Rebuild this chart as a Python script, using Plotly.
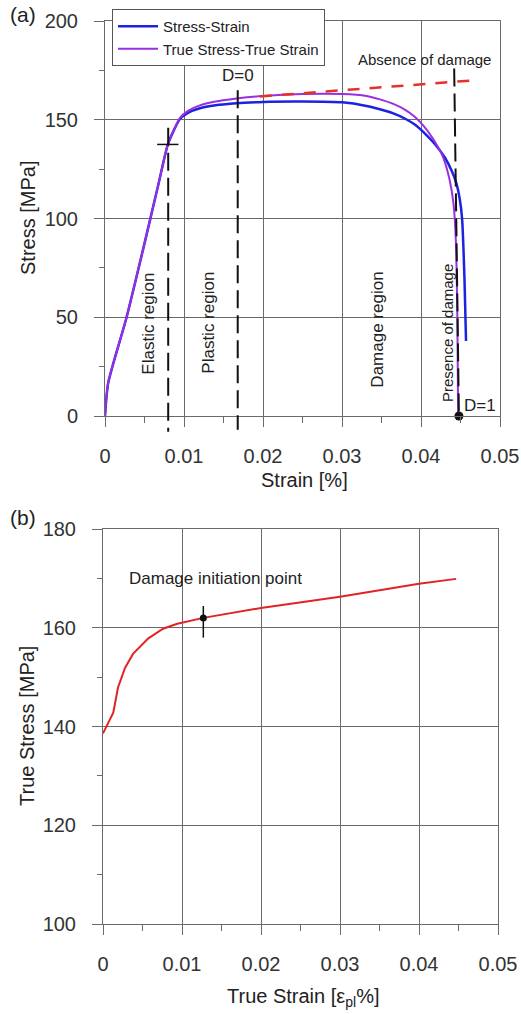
import plotly.graph_objects as go

# ---------------- data: panel (a) ----------------
eng_strain = [0, 0.0004, 0.0027, 0.0048, 0.0068, 0.008, 0.0095, 0.0105, 0.012, 0.014, 0.0162,
              0.02, 0.025, 0.03, 0.0331, 0.0348, 0.0365, 0.038, 0.0393, 0.0405, 0.0418, 0.043,
              0.0439, 0.0445, 0.0449, 0.0452, 0.0455, 0.0457]
eng_stress = [0, 16.7, 49.5, 84, 118, 138, 150.5, 153.5, 155.8, 157.3, 158.2,
              159, 159.2, 158.8, 157, 155.3, 153.2, 150.5, 147.3, 143, 137.5, 131,
              124, 117.5, 110, 100, 70, 38]

true_strain = [0, 0.0004, 0.0027, 0.0048, 0.0068, 0.008, 0.0095, 0.0105, 0.012, 0.014, 0.0162,
               0.02, 0.025, 0.03, 0.0331, 0.0348, 0.0365, 0.038, 0.0392, 0.0403, 0.0415, 0.0428,
               0.0436, 0.0441, 0.0444, 0.0446, 0.0447]
true_stress = [0, 16.7, 49.5, 84, 118, 138, 151, 154.5, 157.3, 159.2, 160.5,
               162, 163, 163, 162, 160.3, 158, 155, 151.5, 147, 140.5, 131,
               120, 108, 90, 50, 0]

nodmg_strain = [0.0196, 0.025, 0.03, 0.035, 0.04, 0.0462]
nodmg_stress = [161.8, 163.5, 165.0, 166.4, 168.0, 169.8]

# region boundaries (strain, top stress, bottom stress)
bound_strain = [0.0080, 0.0168]
bound_top = [146, 165]
bound_bottom = [-8, -7]
dmg_line_strain = [0.0442, 0.0448]
dmg_line_stress = [176, 0]
fail_strain = [0.0448]
fail_stress = [0]
yield_mark_strain = [0.0066, 0.0093]
yield_mark_stress = [137.5, 137.5]

# ---------------- data: panel (b) ----------------
b_strain = [0, 0.0013, 0.0019, 0.0028, 0.0038, 0.0057, 0.0076, 0.0094, 0.0127, 0.02, 0.03, 0.04, 0.0447]
b_stress = [138.6, 142.8, 147.9, 151.9, 154.7, 157.8, 159.8, 160.8, 162, 164, 166.3, 168.9, 169.9]
init_strain = [0.0127]
init_stress = [162]
init_bar = [158, 164.4]

xa_range = [0, 0.05]
ya_range = [0, 200]
yb_range = [100, 180]
x_ticks = [0, 0.01, 0.02, 0.03, 0.04, 0.05]
x_ticklabels = ["0", "0.01", "0.02", "0.03", "0.04", "0.05"]
ya_ticks = [0, 50, 100, 150, 200]
yb_ticks = [100, 120, 140, 160, 180]

FONT = "Arial, Liberation Sans, sans-serif"
W, H = 521, 1014
GRID = "#6a6a6a"
TXT = "#222222"

fig = go.Figure()

fig.add_trace(go.Scatter(x=eng_strain, y=eng_stress, mode="lines", name="Stress-Strain",
                         line=dict(color="#1c22e0", width=2.5, shape="spline", smoothing=0.6),
                         xaxis="x", yaxis="y"))
fig.add_trace(go.Scatter(x=true_strain, y=true_stress, mode="lines", name="True Stress-True Strain",
                         line=dict(color="#9a2ee0", width=2, shape="spline", smoothing=0.6),
                         xaxis="x", yaxis="y"))
fig.add_trace(go.Scatter(x=nodmg_strain, y=nodmg_stress, mode="lines", showlegend=False,
                         line=dict(color="#e8302a", width=2.5, dash="12px,10px"), xaxis="x", yaxis="y"))
fig.add_trace(go.Scatter(x=dmg_line_strain, y=dmg_line_stress, mode="lines", showlegend=False,
                         line=dict(color="#111111", width=2, dash="18px,7px"), xaxis="x", yaxis="y"))
fig.add_trace(go.Scatter(x=yield_mark_strain, y=yield_mark_stress, mode="lines", showlegend=False,
                         line=dict(color="#111111", width=1.5), xaxis="x", yaxis="y"))
fig.add_trace(go.Scatter(x=fail_strain, y=fail_stress, mode="markers", showlegend=False, cliponaxis=False,
                         marker=dict(color="#111111", size=9), xaxis="x", yaxis="y"))

# region boundary dashed lines (allowed to extend below axis)
for xs, yt, yb in zip(bound_strain, bound_top, bound_bottom):
    fig.add_shape(type="line", xref="x", yref="y domain", x0=xs, x1=xs,
                  y0=(yt - ya_range[0]) / (ya_range[1] - ya_range[0]),
                  y1=(yb - ya_range[0]) / (ya_range[1] - ya_range[0]),
                  line=dict(color="#111111", width=2, dash="18px,7px"))

# panel (b)
fig.add_trace(go.Scatter(x=b_strain, y=b_stress, mode="lines", showlegend=False,
                         line=dict(color="#e02424", width=2), xaxis="x2", yaxis="y2"))
fig.add_trace(go.Scatter(x=init_strain * 2, y=init_bar, mode="lines", showlegend=False,
                         line=dict(color="#111111", width=1.5), xaxis="x2", yaxis="y2"))
fig.add_trace(go.Scatter(x=init_strain, y=init_stress, mode="markers", showlegend=False,
                         marker=dict(color="#111111", size=7), xaxis="x2", yaxis="y2"))

axis_common = dict(showgrid=True, gridcolor=GRID, gridwidth=1, showline=True, mirror=True,
                   linecolor=GRID, linewidth=1, ticks="outside", ticklen=10, tickwidth=1,
                   tickcolor=GRID, tickfont=dict(family=FONT, size=20, color="#333333"),
                   zeroline=False, ticklabelstandoff=12, automargin=False)

fig.update_layout(
    template="none",
    width=W, height=H, margin=dict(l=0, r=0, t=0, b=0, autoexpand=False),
    paper_bgcolor="white", plot_bgcolor="white",
    font=dict(family=FONT, color=TXT),
    xaxis=dict(domain=[105 / W, 500 / W], anchor="y", range=xa_range, tickvals=x_ticks,
               ticktext=x_ticklabels,
               minor=dict(dtick=0.005, ticks="outside", ticklen=6, tickcolor=GRID, showgrid=False),
               **axis_common),
    yaxis=dict(domain=[1 - 416 / H, 1 - 21 / H], anchor="x", range=ya_range, tickvals=ya_ticks,
               minor=dict(dtick=25, ticks="outside", ticklen=5, tickcolor=GRID, showgrid=False),
               **axis_common),
    xaxis2=dict(domain=[103 / W, 498 / W], anchor="y2", range=xa_range, tickvals=x_ticks,
                ticktext=x_ticklabels,
                minor=dict(dtick=0.005, ticks="outside", ticklen=6, tickcolor=GRID, showgrid=False),
                **axis_common),
    yaxis2=dict(domain=[1 - 924 / H, 1 - 529 / H], anchor="x2", range=yb_range, tickvals=yb_ticks,
                minor=dict(dtick=10, ticks="outside", ticklen=5, tickcolor=GRID, showgrid=False),
                **axis_common),
    legend=dict(x=112 / W, y=1 - 9 / H, xanchor="left", yanchor="top",
                bgcolor="white", bordercolor="#555555", borderwidth=1,
                itemwidth=40, entrywidth=162, entrywidthmode="pixels",
                font=dict(family=FONT, size=15, color=TXT), tracegroupgap=0),
    showlegend=True,
)

def pann(text, px, py, size=20, angle=0):
    fig.add_annotation(text=text, x=px / W, y=1 - py / H, xref="paper", yref="paper",
                       showarrow=False, textangle=angle, xanchor="center", yanchor="middle",
                       font=dict(family=FONT, size=size, color=TXT))

def dann(text, x, y, xr, yr, size=15, angle=0):
    fig.add_annotation(text=text, x=x, y=y, xref=xr, yref=yr, showarrow=False,
                       textangle=angle, xanchor="center", yanchor="middle",
                       font=dict(family=FONT, size=size, color=TXT))

# panel labels and axis titles
pann("(a)", 23, 15, size=21)
pann("(b)", 23, 517, size=21)
pann("Stress [MPa]", 28, 218, angle=-90)
pann("Strain [%]", 304, 480)
pann("True Stress [MPa]", 27, 726, angle=-90)
pann("True Strain [ε<sub>pl</sub>%]", 303, 997)

# in-plot annotations panel (a)
dann("Absence of damage", 0.0405, 180.5, "x", "y", size=15)
dann("D=0", 0.0168, 172.5, "x", "y", size=17)
dann("Elastic region", 0.0055, 47, "x", "y", size=17, angle=-90)
dann("Plastic region", 0.0131, 47.5, "x", "y", size=17, angle=-90)
dann("Damage region", 0.0345, 43.5, "x", "y", size=17, angle=-90)
dann("Presence of damage", 0.0433, 42, "x", "y", size=15, angle=-90)
dann("D=1", 0.0475, 5.5, "x", "y", size=17)

# panel (b)
dann("Damage initiation point", 0.0142, 170, "x2", "y2", size=17)

fig.write_html("out.html")
